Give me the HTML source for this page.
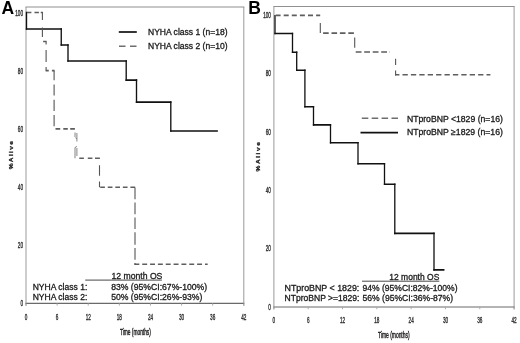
<!DOCTYPE html>
<html><head><meta charset="utf-8"><title>Figure</title>
<style>html,body{margin:0;padding:0;background:#fff;}svg{display:block}text{font-family:"Liberation Sans", sans-serif;}</style>
</head><body>
<svg width="520" height="343" viewBox="0 0 520 343">
<rect width="520" height="343" fill="#fff"/>
<path d="M26,7V305.9M243.8,7V305.9" stroke="#9a9a9a" stroke-width="1" fill="none"/>
<path d="M25.5,7H244.3" stroke="#909090" stroke-width="1.1" fill="none"/>
<path d="M25.5,303.4H244.3" stroke="#6a6a6a" stroke-width="1.2" fill="none"/>
<line x1="26.00" y1="303.4" x2="26.00" y2="305.59999999999997" stroke="#aaa" stroke-width="1"/>
<text transform="translate(26.0,319.7) scale(0.5,1)" font-size="9.3" text-anchor="middle" fill="#333" stroke="#333" stroke-width="0.42" font-weight="normal">0</text>
<line x1="57.11" y1="303.4" x2="57.11" y2="305.59999999999997" stroke="#aaa" stroke-width="1"/>
<text transform="translate(57.11,319.7) scale(0.5,1)" font-size="9.3" text-anchor="middle" fill="#333" stroke="#333" stroke-width="0.42" font-weight="normal">6</text>
<line x1="88.23" y1="303.4" x2="88.23" y2="305.59999999999997" stroke="#aaa" stroke-width="1"/>
<text transform="translate(88.23,319.7) scale(0.5,1)" font-size="9.3" text-anchor="middle" fill="#333" stroke="#333" stroke-width="0.42" font-weight="normal">12</text>
<line x1="119.34" y1="303.4" x2="119.34" y2="305.59999999999997" stroke="#aaa" stroke-width="1"/>
<text transform="translate(119.34,319.7) scale(0.5,1)" font-size="9.3" text-anchor="middle" fill="#333" stroke="#333" stroke-width="0.42" font-weight="normal">18</text>
<line x1="150.46" y1="303.4" x2="150.46" y2="305.59999999999997" stroke="#aaa" stroke-width="1"/>
<text transform="translate(150.46,319.7) scale(0.5,1)" font-size="9.3" text-anchor="middle" fill="#333" stroke="#333" stroke-width="0.42" font-weight="normal">24</text>
<line x1="181.57" y1="303.4" x2="181.57" y2="305.59999999999997" stroke="#aaa" stroke-width="1"/>
<text transform="translate(181.57,319.7) scale(0.5,1)" font-size="9.3" text-anchor="middle" fill="#333" stroke="#333" stroke-width="0.42" font-weight="normal">30</text>
<line x1="212.69" y1="303.4" x2="212.69" y2="305.59999999999997" stroke="#aaa" stroke-width="1"/>
<text transform="translate(212.69,319.7) scale(0.5,1)" font-size="9.3" text-anchor="middle" fill="#333" stroke="#333" stroke-width="0.42" font-weight="normal">36</text>
<line x1="243.80" y1="303.4" x2="243.80" y2="305.59999999999997" stroke="#aaa" stroke-width="1"/>
<text transform="translate(243.8,319.7) scale(0.5,1)" font-size="9.3" text-anchor="middle" fill="#333" stroke="#333" stroke-width="0.42" font-weight="normal">42</text>
<text transform="translate(23,306.2) scale(0.5,1)" font-size="9.3" text-anchor="end" fill="#333" stroke="#333" stroke-width="0.42" font-weight="normal">0</text>
<text transform="translate(23,248.1) scale(0.5,1)" font-size="9.3" text-anchor="end" fill="#333" stroke="#333" stroke-width="0.42" font-weight="normal">20</text>
<text transform="translate(23,190.0) scale(0.5,1)" font-size="9.3" text-anchor="end" fill="#333" stroke="#333" stroke-width="0.42" font-weight="normal">40</text>
<text transform="translate(23,131.9) scale(0.5,1)" font-size="9.3" text-anchor="end" fill="#333" stroke="#333" stroke-width="0.42" font-weight="normal">60</text>
<text transform="translate(23,73.8) scale(0.5,1)" font-size="9.3" text-anchor="end" fill="#333" stroke="#333" stroke-width="0.42" font-weight="normal">80</text>
<text transform="translate(23,15.7) scale(0.5,1)" font-size="9.3" text-anchor="end" fill="#333" stroke="#333" stroke-width="0.42" font-weight="normal">100</text>
<text x="1.4" y="14" font-size="17.5" fill="#000" stroke="#000" stroke-width="0" font-weight="bold" text-anchor="start">A</text>
<text transform="translate(13.1,155.2) rotate(-90) scale(1,0.74)" font-size="6.6" font-weight="bold" fill="#1a1a1a" stroke="#1a1a1a" stroke-width="0.35" text-anchor="middle" textLength="28.2" lengthAdjust="spacing">%Alive</text>
<text transform="translate(135.4,335.4) scale(0.55,1)" font-size="8.8" text-anchor="middle" fill="#222" stroke="#222" stroke-width="0.42" font-weight="normal">Time (months)</text>
<path fill="none" stroke="#111" stroke-width="1.7" d="M25.82,29.00H61.92M60.58,45.00H68.67M67.33,61.00H126.88M125.53,80.10H137.18M135.82,102.10H171.48M170.12,131.00H217.88"/>
<path fill="none" stroke="#111" stroke-width="1.35" d="M26.50,11.65V29.85M61.25,28.15V45.85M68.00,44.15V61.85M126.20,60.15V80.95M136.50,79.25V102.95M170.80,101.25V131.85"/>
<g fill="none" stroke="#5e5e5e" stroke-width="1.6">
<path d="M27,12.5H31.4M34.5,12.5H38.9M40.75,12.5H42.9M43.1,41.5H46.6M45.6,70.6H48.75M51.9,70.6H54.6M55.5,128.9H60.2M63.3,128.9H67.8M70.2,128.9H74.9M79.3,158.3H83.9M87.8,158.3H92.4M95,158.3H99.9"/>
<path d="M100.2,187.2H135.4" stroke-dasharray="4.7 2.85"/>
<path d="M134.4,264.2H207.7" stroke-dasharray="4.9 2.94"/>
</g>
<g fill="none" stroke="#555" stroke-width="1.1">
<path stroke-width="0.8" stroke="#666" d="M75,132.5V137M75,147.5V158.3M76.9,133V141.5M76.9,148V156M75.6,137.5L76.6,139M76.6,146L75.4,147.8"/>
<path d="M42.4,11.9V20M42.4,27.5V36.9M46.1,41.5V44.4M46.1,50V61.9M46.1,66.9V70.6M54.1,70.7V80.3M54.1,84.4V95.6M54.1,99.7V110.9M54.1,115V126.2M99.5,165.2V175.7M99.5,181.5V187.3M135,187.4V199.3M135,202.4V214.3M135,217.6V229.1M135,232.25V244.75M135,247.9V259.75M135,262.9V264.75"/>
</g>
<line x1="118.8" y1="32" x2="136.8" y2="32" stroke="#111" stroke-width="1.7"/>
<line x1="119" y1="46.2" x2="136.5" y2="46.2" stroke="#6e6e6e" stroke-width="1.5" stroke-dasharray="6.5 4.5"/>
<text x="148" y="35.2" font-size="8.6" fill="#1a1a1a" stroke="#1a1a1a" stroke-width="0.3" font-weight="normal" text-anchor="start" textLength="79.5" lengthAdjust="spacingAndGlyphs">NYHA class 1 (n=18)</text>
<text x="148" y="48.8" font-size="8.6" fill="#1a1a1a" stroke="#1a1a1a" stroke-width="0.3" font-weight="normal" text-anchor="start" textLength="79.5" lengthAdjust="spacingAndGlyphs">NYHA class 2 (n=10)</text>
<text x="111.4" y="279" font-size="8.6" fill="#1a1a1a" stroke="#1a1a1a" stroke-width="0.3" font-weight="normal" text-anchor="start" textLength="51" lengthAdjust="spacingAndGlyphs">12 month OS</text>
<line x1="85.2" y1="280.1" x2="161.8" y2="280.1" stroke="#333" stroke-width="0.9"/>
<text x="32.7" y="289.6" font-size="8.6" fill="#1a1a1a" stroke="#1a1a1a" stroke-width="0.3" font-weight="normal" text-anchor="start" textLength="54.6" lengthAdjust="spacingAndGlyphs">NYHA class 1:</text>
<text x="32.7" y="300.1" font-size="8.6" fill="#1a1a1a" stroke="#1a1a1a" stroke-width="0.3" font-weight="normal" text-anchor="start" textLength="54.6" lengthAdjust="spacingAndGlyphs">NYHA class 2:</text>
<text x="111.2" y="289.6" font-size="8.6" fill="#1a1a1a" stroke="#1a1a1a" stroke-width="0.3" font-weight="normal" text-anchor="start" textLength="96" lengthAdjust="spacingAndGlyphs">83% (95%CI:67%-100%)</text>
<text x="111.2" y="300.1" font-size="8.6" fill="#1a1a1a" stroke="#1a1a1a" stroke-width="0.3" font-weight="normal" text-anchor="start" textLength="91.2" lengthAdjust="spacingAndGlyphs">50% (95%CI:26%-93%)</text>
<path d="M273.9,6.5V309.5M514.1,6.5V309.5" stroke="#9a9a9a" stroke-width="1" fill="none"/>
<path d="M273.4,6.5H514.6" stroke="#909090" stroke-width="1.1" fill="none"/>
<path d="M273.4,307H514.6" stroke="#6a6a6a" stroke-width="1.2" fill="none"/>
<line x1="273.90" y1="307" x2="273.90" y2="309.2" stroke="#aaa" stroke-width="1"/>
<text transform="translate(273.9,323.0) scale(0.5,1)" font-size="9.3" text-anchor="middle" fill="#333" stroke="#333" stroke-width="0.42" font-weight="normal">0</text>
<line x1="308.21" y1="307" x2="308.21" y2="309.2" stroke="#aaa" stroke-width="1"/>
<text transform="translate(308.21,323.0) scale(0.5,1)" font-size="9.3" text-anchor="middle" fill="#333" stroke="#333" stroke-width="0.42" font-weight="normal">6</text>
<line x1="342.53" y1="307" x2="342.53" y2="309.2" stroke="#aaa" stroke-width="1"/>
<text transform="translate(342.53,323.0) scale(0.5,1)" font-size="9.3" text-anchor="middle" fill="#333" stroke="#333" stroke-width="0.42" font-weight="normal">12</text>
<line x1="376.84" y1="307" x2="376.84" y2="309.2" stroke="#aaa" stroke-width="1"/>
<text transform="translate(376.84,323.0) scale(0.5,1)" font-size="9.3" text-anchor="middle" fill="#333" stroke="#333" stroke-width="0.42" font-weight="normal">18</text>
<line x1="411.16" y1="307" x2="411.16" y2="309.2" stroke="#aaa" stroke-width="1"/>
<text transform="translate(411.16,323.0) scale(0.5,1)" font-size="9.3" text-anchor="middle" fill="#333" stroke="#333" stroke-width="0.42" font-weight="normal">24</text>
<line x1="445.47" y1="307" x2="445.47" y2="309.2" stroke="#aaa" stroke-width="1"/>
<text transform="translate(445.47,323.0) scale(0.5,1)" font-size="9.3" text-anchor="middle" fill="#333" stroke="#333" stroke-width="0.42" font-weight="normal">30</text>
<line x1="479.79" y1="307" x2="479.79" y2="309.2" stroke="#aaa" stroke-width="1"/>
<text transform="translate(479.79,323.0) scale(0.5,1)" font-size="9.3" text-anchor="middle" fill="#333" stroke="#333" stroke-width="0.42" font-weight="normal">36</text>
<line x1="514.10" y1="307" x2="514.10" y2="309.2" stroke="#aaa" stroke-width="1"/>
<text transform="translate(514.1,323.0) scale(0.5,1)" font-size="9.3" text-anchor="middle" fill="#333" stroke="#333" stroke-width="0.42" font-weight="normal">42</text>
<text transform="translate(270.9,309.65) scale(0.5,1)" font-size="9.3" text-anchor="end" fill="#333" stroke="#333" stroke-width="0.42" font-weight="normal">0</text>
<text transform="translate(270.9,251.35) scale(0.5,1)" font-size="9.3" text-anchor="end" fill="#333" stroke="#333" stroke-width="0.42" font-weight="normal">20</text>
<text transform="translate(270.9,193.05) scale(0.5,1)" font-size="9.3" text-anchor="end" fill="#333" stroke="#333" stroke-width="0.42" font-weight="normal">40</text>
<text transform="translate(270.9,134.75) scale(0.5,1)" font-size="9.3" text-anchor="end" fill="#333" stroke="#333" stroke-width="0.42" font-weight="normal">60</text>
<text transform="translate(270.9,76.45) scale(0.5,1)" font-size="9.3" text-anchor="end" fill="#333" stroke="#333" stroke-width="0.42" font-weight="normal">80</text>
<text transform="translate(270.9,18.15) scale(0.5,1)" font-size="9.3" text-anchor="end" fill="#333" stroke="#333" stroke-width="0.42" font-weight="normal">100</text>
<text x="248.3" y="14" font-size="17.5" fill="#000" stroke="#000" stroke-width="0" font-weight="bold" text-anchor="start">B</text>
<text transform="translate(259.7,156.8) rotate(-90) scale(1,0.74)" font-size="6.6" font-weight="bold" fill="#1a1a1a" stroke="#1a1a1a" stroke-width="0.35" text-anchor="middle" textLength="29.5" lengthAdjust="spacing">%Alive</text>
<text transform="translate(393.8,338.2) scale(0.56,1)" font-size="8.8" text-anchor="middle" fill="#222" stroke="#222" stroke-width="0.42" font-weight="normal">Time (months)</text>
<path fill="none" stroke="#111" stroke-width="1.6" d="M274.35,33.50H293.15M291.85,52.30H297.35M296.05,70.30H305.55M304.25,106.70H314.15M312.85,124.90H331.15M329.85,142.70H358.65M357.35,163.70H385.15M383.85,184.20H395.45M394.15,233.40H434.65M433.35,269.90H444.45"/>
<path fill="none" stroke="#111" stroke-width="1.3" d="M275.00,15.10V34.30M292.50,32.70V53.10M296.70,51.50V71.10M304.90,69.50V107.50M313.50,105.90V125.70M330.50,124.10V143.50M358.00,141.90V164.50M384.50,162.90V185.00M394.80,183.40V234.20M434.00,232.60V270.70"/>
<g fill="none" stroke="#5e5e5e" stroke-width="1.6">
<path d="M275.6,15.4H320.2" stroke-dasharray="5 3.1"/>
<path d="M323.1,33.1H354.4" stroke-dasharray="5.6 2.8"/>
<path d="M355.7,52H390" stroke-dasharray="5.8 2.7"/>
<path d="M395.1,74.75H490.4" stroke-dasharray="5.3 3.1" stroke-dashoffset="1"/>
</g>
<g fill="none" stroke="#555" stroke-width="1.1">
<path d="M320.3,23V33.1M354.7,37.6V47.7M395.6,58.7V65M395.6,70.6V75.5"/>
</g>
<line x1="361.8" y1="118.2" x2="398" y2="118.2" stroke="#6e6e6e" stroke-width="1.5" stroke-dasharray="6.5 3.4"/>
<line x1="360.5" y1="132.6" x2="398" y2="132.6" stroke="#111" stroke-width="1.7"/>
<text x="406.9" y="121.8" font-size="8.6" fill="#1a1a1a" stroke="#1a1a1a" stroke-width="0.3" font-weight="normal" text-anchor="start" textLength="96" lengthAdjust="spacingAndGlyphs">NTproBNP &lt;1829 (n=16)</text>
<text x="406.9" y="135.2" font-size="8.6" fill="#1a1a1a" stroke="#1a1a1a" stroke-width="0.3" font-weight="normal" text-anchor="start" textLength="96" lengthAdjust="spacingAndGlyphs">NTproBNP ≥1829 (n=16)</text>
<text x="389.3" y="280.3" font-size="8.6" fill="#1a1a1a" stroke="#1a1a1a" stroke-width="0.3" font-weight="normal" text-anchor="start" textLength="50" lengthAdjust="spacingAndGlyphs">12 month OS</text>
<line x1="362" y1="281.2" x2="439.3" y2="281.2" stroke="#333" stroke-width="0.9"/>
<text x="284.5" y="290.8" font-size="8.6" fill="#1a1a1a" stroke="#1a1a1a" stroke-width="0.3" font-weight="normal" text-anchor="start" textLength="74.8" lengthAdjust="spacingAndGlyphs">NTproBNP &lt; 1829:</text>
<text x="284.5" y="301.4" font-size="8.6" fill="#1a1a1a" stroke="#1a1a1a" stroke-width="0.3" font-weight="normal" text-anchor="start" textLength="75" lengthAdjust="spacingAndGlyphs">NTproBNP &gt;=1829:</text>
<text x="362.5" y="290.8" font-size="8.6" fill="#1a1a1a" stroke="#1a1a1a" stroke-width="0.3" font-weight="normal" text-anchor="start" textLength="95" lengthAdjust="spacingAndGlyphs">94% (95%CI:82%-100%)</text>
<text x="362.5" y="301.4" font-size="8.6" fill="#1a1a1a" stroke="#1a1a1a" stroke-width="0.3" font-weight="normal" text-anchor="start" textLength="90.5" lengthAdjust="spacingAndGlyphs">56% (95%CI:36%-87%)</text>
</svg></body></html>
